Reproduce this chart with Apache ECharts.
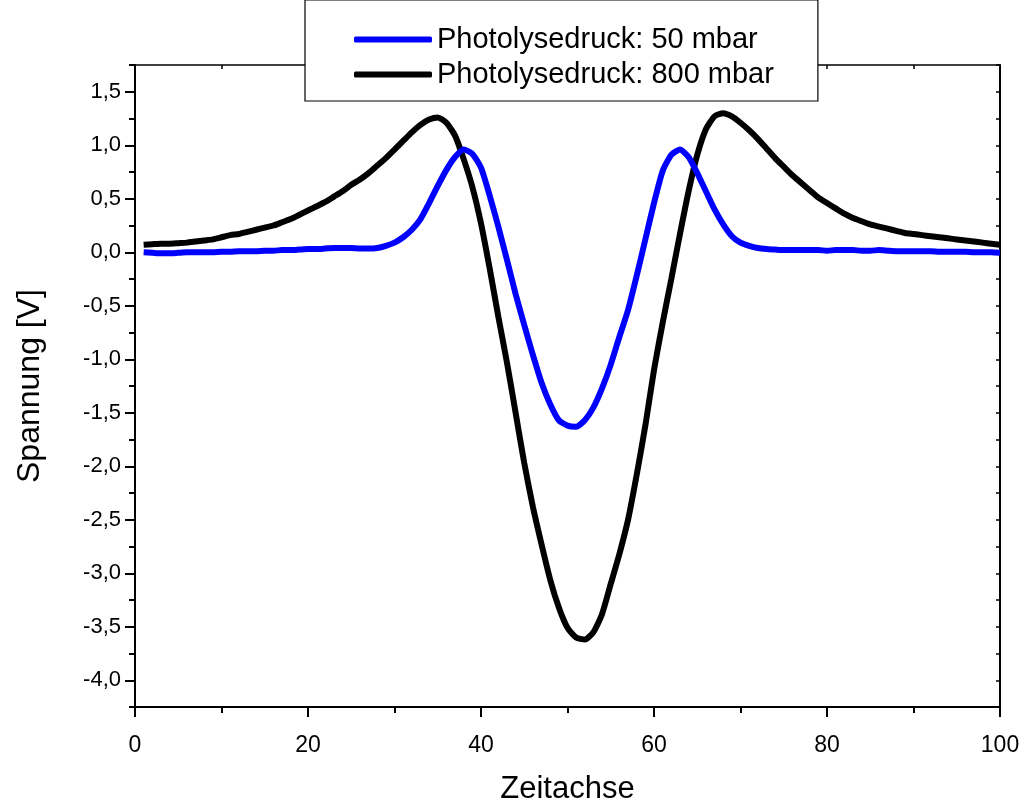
<!DOCTYPE html>
<html>
<head>
<meta charset="utf-8">
<script src="https://cdn.jsdelivr.net/npm/echarts@6/dist/echarts.min.js"></script>
<style>html,body{margin:0;padding:0;background:#fff;}#c{width:1023px;height:807px;}</style>
</head>
<body>
<div id="c"></div>
<script>
const seriesNames = ['Photolysedruck: 50 mbar', 'Photolysedruck: 800 mbar'];
const xValues = Array.from({length: 100}, (_, i) => i + 1);
const blue50 = [
  0.00, -0.005, -0.01, -0.01, -0.005, 0.00, 0.00, 0.00, 0.00, 0.005,
  0.005, 0.01, 0.01, 0.01, 0.015, 0.015, 0.02, 0.02, 0.025, 0.03,
  0.03, 0.035, 0.04, 0.04, 0.04, 0.035, 0.035, 0.04, 0.06, 0.09,
  0.14, 0.21, 0.31, 0.46, 0.62, 0.77, 0.89, 0.96, 0.92, 0.79,
  0.53, 0.24, -0.07, -0.39, -0.68, -0.96, -1.22, -1.42, -1.57, -1.62,
  -1.63, -1.57, -1.45, -1.27, -1.05, -0.79, -0.54, -0.22, 0.12, 0.46,
  0.76, 0.91, 0.96, 0.89, 0.74, 0.57, 0.40, 0.26, 0.15, 0.09,
  0.06, 0.04, 0.03, 0.025, 0.02, 0.02, 0.02, 0.02, 0.02, 0.015,
  0.02, 0.02, 0.02, 0.015, 0.015, 0.02, 0.015, 0.01, 0.01, 0.01,
  0.01, 0.01, 0.005, 0.005, 0.005, 0.005, 0.00, 0.00, 0.00, -0.005
];
const black800 = [
  0.07, 0.075, 0.08, 0.08, 0.085, 0.09, 0.10, 0.11, 0.12, 0.14,
  0.16, 0.17, 0.19, 0.21, 0.23, 0.25, 0.28, 0.31, 0.35, 0.39,
  0.43, 0.47, 0.52, 0.57, 0.63, 0.68, 0.74, 0.81, 0.88, 0.96,
  1.04, 1.12, 1.19, 1.24, 1.26, 1.21, 1.09, 0.87, 0.61, 0.27,
  -0.15, -0.60, -1.03, -1.50, -1.97, -2.38, -2.73, -3.06, -3.32, -3.51,
  -3.60, -3.62, -3.55, -3.38, -3.10, -2.82, -2.50, -2.08, -1.62, -1.10,
  -0.66, -0.25, 0.17, 0.57, 0.91, 1.15, 1.27, 1.30, 1.27, 1.21,
  1.14, 1.06, 0.97, 0.88, 0.80, 0.72, 0.65, 0.58, 0.51, 0.46,
  0.41, 0.36, 0.32, 0.29, 0.26, 0.24, 0.22, 0.20, 0.18, 0.17,
  0.16, 0.15, 0.14, 0.13, 0.12, 0.11, 0.10, 0.09, 0.08, 0.07
];
const yMajorTicks = [-4.0, -3.5, -3.0, -2.5, -2.0, -1.5, -1.0, -0.5, 0.0, 0.5, 1.0, 1.5];

const FONT = '"Liberation Sans", Arial, sans-serif';
const chart = echarts.init(document.getElementById('c'));
const fmt = v => (Math.abs(v) < 1e-9 ? 0 : v).toFixed(1).replace('.', ',');

chart.setOption({
  animation: false,
  backgroundColor: '#fff',
  textStyle: {fontFamily: FONT},
  grid: {left: 135, right: 23, top: 65, bottom: 100, containLabel: false, outerBoundsMode: 'none'},
  legend: {
    data: seriesNames,
    left: 305, top: 0,
    orient: 'vertical',
    padding: [25, 44, 12, 49],
    itemGap: 6,
    itemWidth: 78, itemHeight: 6,
    icon: 'roundRect',
    backgroundColor: '#fff',
    borderColor: '#000', borderWidth: 1.2, borderRadius: 0,
    textStyle: {fontSize: 29, color: '#000', fontFamily: FONT},
    z: 10
  },
  xAxis: [
    {
      type: 'value', min: 0, max: 100, interval: 20, position: 'bottom',
      axisLine: {show: true, onZero: false, lineStyle: {color: '#000', width: 2}},
      axisTick: {show: true, inside: false, length: 10, lineStyle: {color: '#000', width: 2}},
      minorTick: {show: true, splitNumber: 2, length: 6, lineStyle: {color: '#000', width: 2}},
      axisLabel: {fontSize: 23, color: '#000', margin: 27, fontFamily: FONT},
      splitLine: {show: false},
      name: 'Zeitachse', nameLocation: 'middle', nameGap: 67,
      nameTextStyle: {fontSize: 31, color: '#000', fontFamily: FONT}
    },
    {
      type: 'value', min: 0, max: 100, interval: 10, position: 'top',
      axisLine: {show: true, onZero: false, lineStyle: {color: '#000', width: 1.5}},
      axisTick: {show: true, inside: true, length: 4, lineStyle: {color: '#000', width: 1.5}},
      axisLabel: {show: false}, splitLine: {show: false}
    }
  ],
  yAxis: [
    {
      type: 'value', min: -4.25, max: 1.75, position: 'left',
      axisLine: {show: true, onZero: false, lineStyle: {color: '#000', width: 2}},
      axisTick: {show: true, inside: false, length: 10, customValues: yMajorTicks, lineStyle: {color: '#000', width: 2}},
      axisLabel: {fontSize: 22, color: '#000', margin: 14, customValues: yMajorTicks, formatter: fmt, fontFamily: FONT},
      splitLine: {show: false},
      name: 'Spannung [V]', nameLocation: 'middle', nameGap: 89, nameRotate: 90,
      nameTextStyle: {fontSize: 32, color: '#000', fontFamily: FONT}
    },
    {
      type: 'value', min: -4.25, max: 1.75, interval: 0.25, position: 'right',
      axisLine: {show: true, onZero: false, lineStyle: {color: '#000', width: 2}},
      axisTick: {show: true, inside: true, length: 4, lineStyle: {color: '#000', width: 1.5}},
      axisLabel: {show: false}, splitLine: {show: false}
    },
    {
      type: 'value', min: -4.25, max: 1.75, interval: 0.25, position: 'left',
      axisLine: {show: false, onZero: false},
      axisTick: {show: true, inside: false, length: 6, lineStyle: {color: '#000', width: 2}},
      axisLabel: {show: false}, splitLine: {show: false}
    }
  ],
  series: [
    {
      name: seriesNames[0], type: 'line', xAxisIndex: 0, yAxisIndex: 0,
      data: xValues.map((x, i) => [x, blue50[i]]),
      showSymbol: false, smooth: 0.2,
      lineStyle: {color: '#0000ff', width: 6},
      itemStyle: {color: '#0000ff'}, z: 3
    },
    {
      name: seriesNames[1], type: 'line', xAxisIndex: 0, yAxisIndex: 0,
      data: xValues.map((x, i) => [x, black800[i]]),
      showSymbol: false, smooth: 0.2,
      lineStyle: {color: '#000000', width: 6},
      itemStyle: {color: '#000000'}, z: 2
    }
  ]
});
</script>
</body>
</html>
